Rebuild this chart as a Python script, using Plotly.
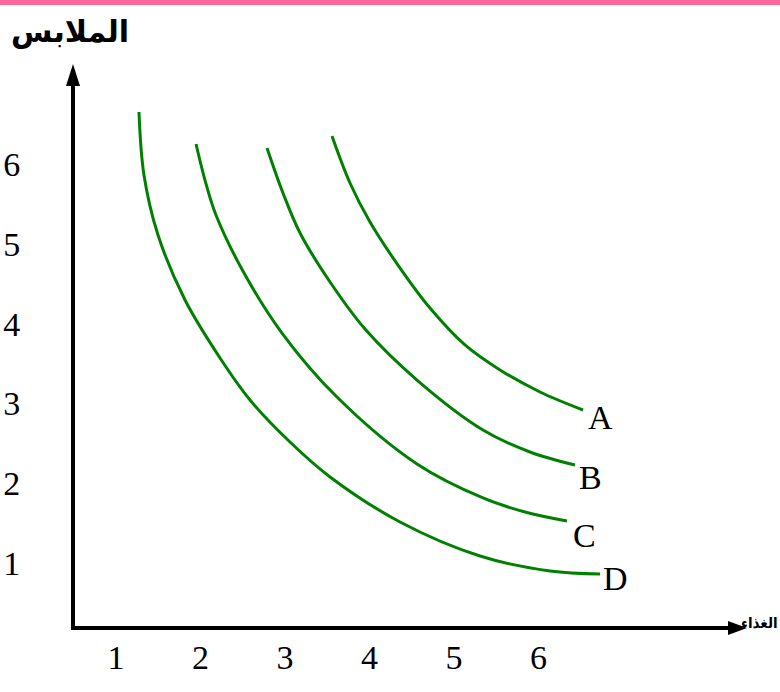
import plotly.graph_objects as go

# ---- data ----
x_ticks = [1, 2, 3, 4, 5, 6]
y_ticks = [1, 2, 3, 4, 5, 6]
x_title = "الغذاء"
y_title = "الملابس"

curve_names = ["A", "B", "C", "D"]
curve_A_x = [3.556, 3.769, 4.006, 4.337, 4.716, 5.130, 5.544, 6.018, 6.527]
curve_A_y = [6.351, 5.762, 5.273, 4.734, 4.195, 3.732, 3.419, 3.143, 2.917]
curve_B_x = [2.787, 2.976, 3.178, 3.533, 3.947, 4.562, 5.343, 5.899, 6.432]
curve_B_y = [6.201, 5.637, 5.135, 4.521, 3.932, 3.293, 2.667, 2.391, 2.228]
curve_C_x = [1.947, 2.053, 2.183, 2.515, 2.964, 3.615, 4.562, 5.343, 5.840, 6.337]
curve_C_y = [6.251, 5.799, 5.361, 4.634, 3.882, 3.080, 2.241, 1.815, 1.639, 1.526]
curve_D_x = [1.272, 1.331, 1.497, 1.817, 2.231, 2.586, 3.059, 3.533, 4.361, 5.308, 6.136, 6.728]
curve_D_y = [6.652, 5.862, 5.110, 4.296, 3.569, 3.043, 2.516, 2.078, 1.514, 1.088, 0.900, 0.862]

curves_x = [curve_A_x, curve_B_x, curve_C_x, curve_D_x]
curves_y = [curve_A_y, curve_B_y, curve_C_y, curve_D_y]

# ---- layout geometry (pixels) ----
W, H = 780, 692
L, R, T, B = 75, 740, 75, 626          # plot area edges in pixels
x_range = [0.5148, 8.3846]
y_range = [0.2105, 7.1153]

def px(xp):
    return (xp - L) / (R - L)

def py(yp):
    return (B - yp) / (B - T)

GREEN = "#008000"
SERIF = "Liberation Serif, Times New Roman, serif"
LABEL_FONT = dict(family=SERIF, size=34, color="black")

fig = go.Figure()
for name, xs, ys in zip(curve_names, curves_x, curves_y):
    fig.add_trace(go.Scatter(x=xs, y=ys, mode="lines", name=name,
                             line=dict(color=GREEN, width=3, shape="spline", smoothing=1.0),
                             hoverinfo="skip", showlegend=False))

label_shift = {"A": (17, -7), "B": (15, -12), "C": (18, -14), "D": (15, -4)}
annotations = []
for name, xs, ys in zip(curve_names, curves_x, curves_y):
    dx, dy = label_shift[name]
    annotations.append(dict(x=xs[-1], y=ys[-1], xref="x", yref="y", text=name,
                            showarrow=False, xanchor="center", yanchor="middle",
                            xshift=dx, yshift=dy, font=LABEL_FONT))

annotations.append(dict(x=px(70), y=py(32), xref="paper", yref="paper", text=y_title,
                        showarrow=False, xanchor="center", yanchor="middle",
                        font=dict(family="DejaVu Sans", size=30, color="black", weight="bold")))
annotations.append(dict(x=px(780), y=py(623), xref="paper", yref="paper", text=x_title,
                        showarrow=False, xanchor="right", yanchor="middle",
                        font=dict(family="DejaVu Sans Condensed, DejaVu Sans", size=15,
                                  color="black", weight="bold")))

shapes = [
    # x-axis arrow head
    dict(type="path", xref="paper", yref="paper",
         path=f"M {px(728)},{py(621)} L {px(747)},{py(628)} L {px(728)},{py(635)} Z",
         fillcolor="black", line=dict(width=0)),
    # y-axis arrow head
    dict(type="path", xref="paper", yref="paper",
         path=f"M {px(66)},{py(86)} L {px(73)},{py(64)} L {px(80)},{py(86)} Z",
         fillcolor="black", line=dict(width=0)),
    # pink top border
    dict(type="rect", xref="paper", yref="paper",
         x0=px(0), x1=px(W), y0=py(5), y1=py(0),
         fillcolor="#FF6699", line=dict(width=0)),
]

fig.update_layout(
    width=W, height=H,
    margin=dict(l=L, r=W - R, t=T, b=H - B, pad=0, autoexpand=False),
    paper_bgcolor="white", plot_bgcolor="white",
    annotations=annotations, shapes=shapes,
    xaxis=dict(range=x_range, tickvals=x_ticks, ticktext=[str(v) for v in x_ticks],
               showgrid=False, zeroline=False, showline=True, linecolor="black", linewidth=4,
               ticks="", ticklabelstandoff=-2, tickfont=LABEL_FONT, fixedrange=True,
               automargin=False),
    yaxis=dict(range=y_range, tickvals=y_ticks, ticktext=[str(v) for v in y_ticks],
               showgrid=False, zeroline=False, showline=True, linecolor="black", linewidth=4,
               ticks="", ticklabelstandoff=44, tickfont=LABEL_FONT, fixedrange=True,
               automargin=False),
)

fig.write_html(
    "out.html",
    config={"displayModeBar": False},
    post_script="document.body.style.margin='0';document.body.style.overflow='hidden';",
)
